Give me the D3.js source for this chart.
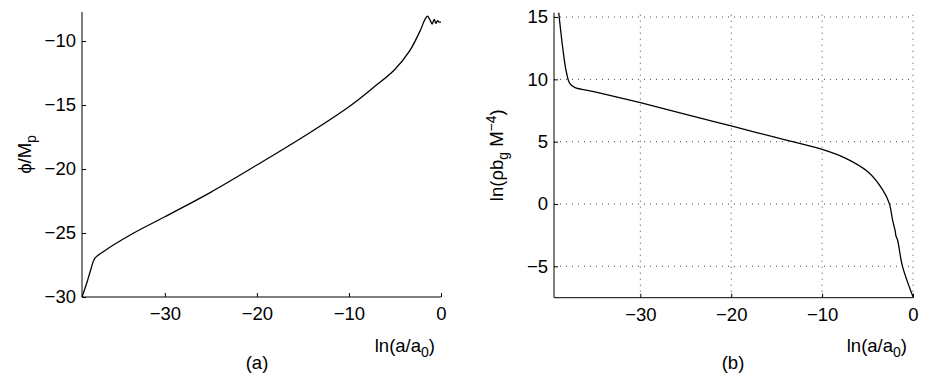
<!DOCTYPE html>
<html>
<head>
<meta charset="utf-8">
<title>phi and rho vs ln a</title>
<script src="https://d3js.org/d3.v7.min.js"></script>
<style>
    body { margin: 0; background: #fff; }
    text { font-family: 'Liberation Sans', Arial, sans-serif; font-size: 18.5px; fill: #000; }
</style>
</head>
<body>
<svg id="fig" width="926" height="382"></svg>
<script>
// panel (a): phi / M_p against ln(a/a0)
const phiLnA = [-39, -38.49, -38.06, -37.63, -36.69, -33.43, -30, -25.03, -20, -15.04, -10, -7.5, -5.02, -3.39, -2.23, -1.78, -1.47, -1.1, -0.96, -0.74, -0.56, -0.38, -0.2, 0];
const phiVal = [-30, -28.93, -27.89, -27.0, -26.46, -25.02, -23.73, -21.82, -19.69, -17.52, -15.13, -13.72, -12.22, -10.75, -9.14, -8.36, -8.05, -8.49, -8.67, -8.31, -8.62, -8.41, -8.52, -8.52];

// panel (b): ln(rho b_g M^-4) against ln(a/a0)
const rhoLnA = [-38.98, -38.51, -38.15, -37.77, -37.23, -35, -30, -25, -20, -15, -10, -7.5, -5, -3.35, -2.61, -2.25, -1.95, -1.88, -1.7, -1.15, 0];
const rhoVal = [15.35, 12.36, 10.62, 9.68, 9.36, 9.0, 8.13, 7.2, 6.26, 5.32, 4.38, 3.7, 2.6, 1.15, 0.05, -1.28, -2.2, -2.55, -2.89, -5.03, -7.44];

const xTicks = [-30, -20, -10, 0];
const phiTicks = [-30, -25, -20, -15, -10];
const rhoTicks = [-5, 0, 5, 10, 15];

const svg = d3.select("#fig");
const fmt = d => d < 0 ? "\u2212" + Math.abs(d) : String(d);

function panel(opt) {
    const g = svg.append("g");
    const x = d3.scaleLinear().domain(opt.xDomain).range([opt.left, opt.right]);
    const y = d3.scaleLinear().domain(opt.yDomain).range([opt.bottom, opt.top]);

    if (opt.grid) {
        g.selectAll(".gx").data(xTicks).enter().append("line")
            .attr("x1", d => x(d)).attr("x2", d => x(d))
            .attr("y1", opt.bottom).attr("y2", opt.top)
            .attr("stroke", "#444").attr("stroke-width", 1)
            .attr("stroke-dasharray", "1,5");
        g.selectAll(".gy").data(opt.yTicks).enter().append("line")
            .attr("x1", opt.left).attr("x2", opt.right)
            .attr("y1", d => y(d)).attr("y2", d => y(d))
            .attr("stroke", "#444").attr("stroke-width", 1)
            .attr("stroke-dasharray", "1,5");
    }

    // axes: only left and bottom lines, ticks inward
    const xAxis = d3.axisBottom(x).tickValues(xTicks).tickSize(-4).tickFormat(fmt).tickPadding(10);
    const yAxis = d3.axisLeft(y).tickValues(opt.yTicks).tickSize(-4).tickFormat(fmt).tickPadding(6);

    const gx = g.append("g").attr("transform", `translate(0,${opt.bottom})`).call(xAxis);
    const gy = g.append("g").attr("transform", `translate(${opt.left},0)`).call(yAxis);
    [gx, gy].forEach(a => {
        a.select(".domain").remove();
        a.selectAll("text").style("font-size", "18.5px").attr("fill", "#000");
        a.selectAll("line").attr("stroke", "#000");
    });
    gx.selectAll("text").attr("dy", "0.71em");
    g.append("line").attr("x1", opt.left).attr("x2", opt.right)
        .attr("y1", opt.bottom).attr("y2", opt.bottom).attr("stroke", "#000");
    g.append("line").attr("x1", opt.left).attr("x2", opt.left)
        .attr("y1", opt.bottom).attr("y2", opt.top).attr("stroke", "#000");

    const pts = opt.xs.map((v, i) => [v, opt.ys[i]]);
    g.append("path").datum(pts)
        .attr("fill", "none").attr("stroke", "#000").attr("stroke-width", 1.3)
        .attr("d", d3.line().x(d => x(d[0])).y(d => y(d[1])).curve(d3.curveCatmullRom.alpha(0.5)));

    // x label
    const xl = g.append("text").attr("x", opt.right - 6).attr("y", 352).attr("text-anchor", "end");
    xl.append("tspan").text("ln(a/a");
    xl.append("tspan").attr("dy", 5).style("font-size", "14px").text("0");
    xl.append("tspan").attr("dy", -5).text(")");

    g.append("text").attr("x", opt.capX).attr("y", 369).attr("text-anchor", "middle").text(opt.caption);

    const yl = g.append("text").attr("text-anchor", "middle")
        .attr("transform", `translate(${opt.yLabX},${(opt.top + opt.bottom) / 2}) rotate(-90)`);
    opt.yLabel(yl);
}

panel({
    left: 82, right: 441, top: 12, bottom: 297,
    xDomain: [-39, 0], yDomain: [-30, -7.73],
    yTicks: phiTicks, xs: phiLnA, ys: phiVal, grid: false,
    capX: 257, caption: "(a)", yLabX: 31,
    yLabel: t => {
        t.append("tspan").text("\u03d5/M");
        t.append("tspan").attr("dy", 5).style("font-size", "14px").text("p");
    }
});

panel({
    left: 554, right: 913, top: 12.7, bottom: 297.7,
    xDomain: [-39.5, 0], yDomain: [-7.52, 15.35],
    yTicks: rhoTicks, xs: rhoLnA, ys: rhoVal, grid: true,
    capX: 733, caption: "(b)", yLabX: 503,
    yLabel: t => {
        t.append("tspan").text("ln(\u03c1b");
        t.append("tspan").attr("dy", 5).style("font-size", "14px").text("g");
        t.append("tspan").attr("dy", -5).text(" M");
        t.append("tspan").attr("dy", -7).style("font-size", "14px").text("\u22124");
        t.append("tspan").attr("dy", 7).text(")");
    }
});
</script>
</body>
</html>
